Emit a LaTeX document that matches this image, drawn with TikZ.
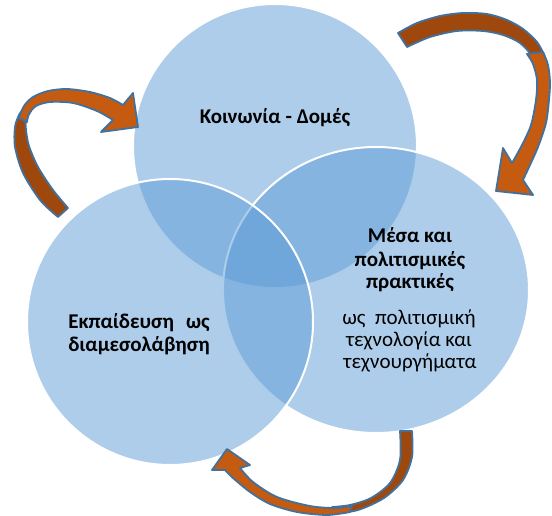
\documentclass[tikz,border=0pt]{standalone}
\usepackage{fontspec}
\setmainfont{Carlito}
\usetikzlibrary{shapes.geometric}
\definecolor{vennblue}{RGB}{91,155,213}
\definecolor{arrorange}{RGB}{197,90,17}
\definecolor{arrbrown}{RGB}{158,72,14}
\definecolor{arrblue}{RGB}{65,113,156}
\newlength\eduw
\begin{document}
\begin{tikzpicture}[x=1pt,y=-1pt,
  venn/.style={fill=vennblue, fill opacity=0.5, draw=white, line width=2pt, inner sep=0pt},
  lblb/.style={font=\fontsize{21}{23}\selectfont\bfseries, inner sep=0pt, anchor=base},
  lbln/.style={font=\fontsize{21}{23}\selectfont, inner sep=0pt, anchor=base},
  brownpart/.style={fill=arrbrown, draw=arrblue, line width=1.8pt, line join=round},
  orangepart/.style={fill=arrorange, draw=arrblue, line width=1.8pt, line join=round}]
\useasboundingbox (0,0) rectangle (552,516);
% circles
\node[venn, circle, minimum size=284pt] (soc) at (275,146) {};
\node[venn, ellipse, minimum width=306pt, minimum height=286pt] (media) at (376,290) {};
\node[venn, circle, minimum size=286pt] (edu) at (170,322) {};
% texts
\node[lblb] (t1) at (275,124) {Κοινωνία - Δομές};
\node[lblb] (m1) at (410,243) {Μέσα και};
\node[lblb] (m2) at (410,266) {πολιτισμικές};
\node[lblb] (m3) at (410,288) {πρακτικές};
\node[lbln] (n1) at (409,324) {ως\ \ πολιτισμική};
\node[lbln] (n2) at (409,346) {τεχνολογία και};
\node[lbln] (n3) at (410,368) {τεχνουργήματα};
\node[lblb] (e1) at (139,328) {\settowidth{\eduw}{διαμεσολάβηση}\makebox[\eduw][s]{Εκπαίδευση ως}};
\node[lblb] (e2) at (139,351) {διαμεσολάβηση};
% arrow 1 (left)
\path[brownpart] plot[smooth] coordinates {(58,217) (40,200) (23,173) (15,147) (15,127) (19,115) (24,108)}
  -- plot[smooth] coordinates {(31,111) (26,120) (26,130) (29,146) (38,167) (53,190) (68,208)} -- cycle;
\path[orangepart] plot[smooth] coordinates {(19,118) (24,106) (33,97) (48,91) (67,89) (90,92) (110,98) (123,105)}
  -- (133,93) -- (138,127) -- (101,132)
  -- plot[smooth] coordinates {(113,120) (97,111) (73,103) (50,102) (36,106) (29,114) (27,122)} -- cycle;
% arrow 2 (top right)
\path[brownpart] plot[smooth] coordinates {(398,33) (417,23) (440,16) (463,13) (487,14) (507,20) (523,29) (537,42) (545,57) (548,70)}
  -- plot[smooth] coordinates {(540,70) (533,57) (520,43) (503,35) (483,31) (457,31) (430,37) (407,47)} -- cycle;
\path[orangepart] plot[smooth] coordinates {(543,52) (548,65) (550,82) (549,100) (546,123) (538,147) (530,165) (523,180)}
  -- (533,195) -- (496,191) -- (503,148)
  -- plot[smooth] coordinates {(512,163) (522,145) (531,125) (536,100) (537,80) (533,64) (527,54)} -- cycle;
% arrow 3 (bottom)
\path[brownpart] plot[smooth] coordinates {(412,431) (412,457) (403,480) (384,498) (358,510) (332,514)}
  -- plot[smooth] coordinates {(332,507) (350,505) (371,498) (390,483) (400,460) (400,431)} -- cycle;
\path[orangepart] plot[smooth] coordinates {(350,512) (327,515) (297,512) (270,504) (250,492) (233,478) (225,470)}
  -- (212,470) -- (227,449) -- (250,465)
  -- plot[smooth] coordinates {(240,468) (253,482) (277,497) (310,506) (335,508) (352,506)} -- cycle;
\end{tikzpicture}
\end{document}
